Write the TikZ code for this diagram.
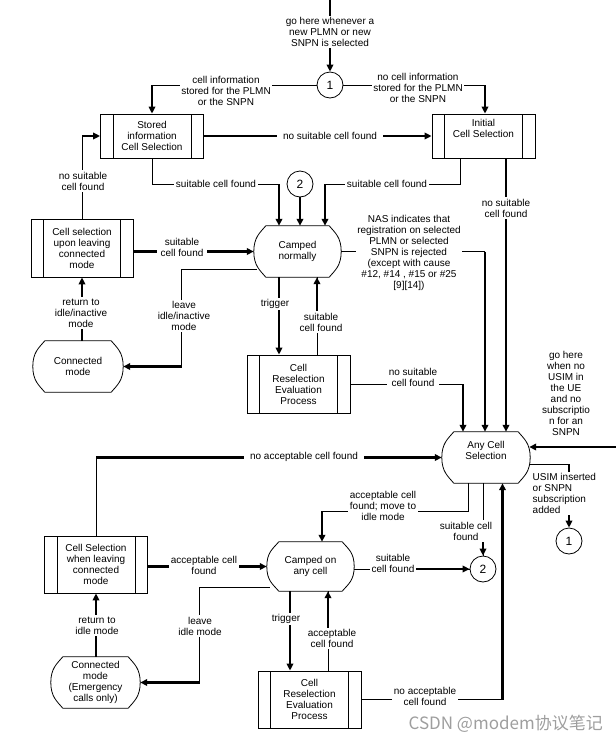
\documentclass[tikz,border=0pt]{standalone}
\usepackage{fontspec}
\setmainfont{Liberation Sans}
\newfontfamily\cjkfont{Noto Sans CJK SC}
\usetikzlibrary{arrows.meta,calc}
\tikzset{
  lbl/.style={font=\fontsize{10}{11}\selectfont, align=center, fill=white, inner sep=1.5pt},
  thn/.style={line width=0.8pt},
  thk/.style={line width=2.2pt},
  arr/.style={-{Triangle[length=7pt,width=6.5pt]}},
  pbox/.style={draw, line width=0.8pt, minimum width=103pt, inner sep=0pt, align=center,
    font=\fontsize{10}{11}\selectfont,
    path picture={\draw[line width=0.8pt]
      ([xshift=12.5pt]path picture bounding box.north west) -- ([xshift=12.5pt]path picture bounding box.south west)
      ([xshift=-12.5pt]path picture bounding box.north east) -- ([xshift=-12.5pt]path picture bounding box.south east);}},
  term/.style={minimum width=87pt, minimum height=51pt, inner sep=0pt, align=center,
    font=\fontsize{10}{11}\selectfont},
  circ/.style={draw, circle, line width=0.8pt, minimum size=26pt, inner sep=0pt,
    font=\fontsize{12}{12}\selectfont, fill=white}
}
\newcommand\drawterm[1]{\draw[line width=0.8pt]
  ([xshift=12pt]#1.north west) -- ([xshift=-12pt]#1.north east)
  .. controls ($([xshift=-12pt]#1.north east)+(6,7)$) and ($(#1.east)+(0,-14)$) .. (#1.east)
  .. controls ($(#1.east)+(0,14)$) and ($([xshift=-12pt]#1.south east)+(6,-7)$) .. ([xshift=-12pt]#1.south east)
  -- ([xshift=12pt]#1.south west)
  .. controls ($([xshift=12pt]#1.south west)+(-6,-7)$) and ($(#1.west)+(0,14)$) .. (#1.west)
  .. controls ($(#1.west)+(0,-14)$) and ($([xshift=12pt]#1.north west)+(-6,7)$) .. cycle;}
\begin{document}
\begin{tikzpicture}[x=1pt,y=-1pt]
\useasboundingbox (0,0) rectangle (616,745);

% ---------- nodes ----------
\node[circ] (c1a) at (330,85) {1};
\node[pbox, minimum height=44pt] (stored) at (152,136) {Stored\\information\\Cell Selection};
\node[pbox, minimum height=44pt] (initial) at (483.5,136) {Initial\\Cell Selection\\[0pt]\strut};
\node[circ] (c2a) at (300,184) {2};
\node[pbox, minimum width=102pt, minimum height=58pt] (cellsel) at (82,248) {Cell selection\\upon leaving\\connected\\mode};
\node[term] (camped) at (297.5,251.5) {Camped\\normally};
\drawterm{camped}
\node[term, minimum width=90pt] (connected) at (78,366.5) {Connected\\mode};
\drawterm{connected}
\node[pbox, minimum height=58pt] (resel1) at (298.5,384) {Cell\\Reselection\\Evaluation\\Process};
\node[term, minimum width=88pt] (anycell) at (486,457.5) {Any Cell\\Selection\\[0pt]\strut};
\drawterm{anycell}
\node[circ] (c1b) at (569,541) {1};
\node[circ] (c2b) at (483,569) {2};
\node[pbox, minimum height=57pt] (cellsel2) at (96,564.5) {Cell Selection\\when leaving\\connected\\mode};
\node[term, minimum height=49pt] (campany) at (310.5,566.5) {Camped on\\any cell};
\drawterm{campany}
\node[term, minimum width=89pt] (connected2) at (95.5,682.5) {Connected\\mode\\(Emergency\\calls only)};
\drawterm{connected2}
\node[pbox, minimum height=57pt] (resel2) at (309.5,699.5) {Cell\\Reselection\\Evaluation\\Process};

% ---------- connectors ----------
\coordinate (top) at (330,0);
\draw[thk,arr] (top) -- (c1a.north);

\coordinate (k2) at (stored.north |- c1a.west);
\draw[thn] (c1a.west) -- (k2);
\draw[line width=1.6pt,arr] (k2) -- (stored.north);

\coordinate (k3b) at ($(initial.north)+(1.5,0)$);
\coordinate (k3) at (k3b |- c1a.east);
\draw[thn] (c1a.east) -- (k3);
\draw[thk,arr] (k3) -- (k3b);

\draw[thk,arr] (stored.east) -- (initial.west);

\coordinate (k5) at (cellsel.north |- stored.west);
\draw[thn] (cellsel.north) -- (k5);
\draw[thk,arr] (k5) -- (stored.west);

\coordinate (k6b) at ($(camped.north)+(-18.5,0)$);
\coordinate (k6) at (k6b |- c2a);
\draw[thn] (stored.south) |- (k6);
\draw[thk,arr] (k6) -- (k6b);

\draw[thk,arr] (c2a.south) -- (c2a.south |- camped.north);

\coordinate (k8b) at ($(camped.north)+(27.5,0)$);
\coordinate (k8) at (k8b |- c2a);
\coordinate (k8a) at ($(initial.south)+(-23.5,0)$);
\draw[thn] (k8a) |- (k8);
\draw[thk,arr] (k8) -- (k8b);

\coordinate (k9a) at ($(initial.south)+(22.5,0)$);
\coordinate (k9b) at ($(anycell.north)+(20,0)$);
\draw[thk,arr] (k9a) -- (k9b);

\draw[thk,arr] (cellsel.east |- camped.west) -- (camped.west);

\draw[thk,arr] (cellsel.south |- connected.north) -- (cellsel.south);

\coordinate (k12a) at ($(camped.west)+(3,17.5)$);
\coordinate (k12b) at ($(k12a)+(-75,0)$);
\coordinate (k12c) at (k12b |- connected.east);
\draw[thn] (k12a) -- (k12b) -- (k12c);
\draw[thk,arr] (k12c) -- (connected.east);

\draw[thk,arr] ($(camped.south)+(-18.5,0)$) -- ($(resel1.north)+(-19.5,0)$);

\draw[thn] ($(resel1.north)+(18.5,0)$) -- ($(camped.south)+(19.5,0)$);
\draw[thk,arr] ($(camped.south)+(19.5,40)$) -- ($(camped.south)+(19.5,0)$);

\coordinate (k15b) at ($(anycell.north)+(-1,0)$);
\coordinate (k15) at (k15b |- camped.east);
\draw[thn] (camped.east) -- (k15);
\draw[line width=1.6pt,arr] (k15) -- (k15b);

\coordinate (k16b) at ($(anycell.north)+(-23,0)$);
\coordinate (k16) at (k16b |- resel1.east);
\draw[thn] (resel1.east) -- (k16);
\draw[thk,arr] (k16) -- (k16b);

\coordinate (rin) at (616,447);
\draw[thk,arr] (rin) -- ($(rin -| anycell.east)+(-1,0)$);

\coordinate (k18a) at ($(anycell.east)+(0,6.5)$);
\coordinate (k18) at (k18a -| c1b.north);
\draw[thn] (k18a) -- (k18);
\draw[thk,arr] (k18) -- (c1b.north);

\coordinate (k19a) at ($(anycell.south)+(-18,0)$);
\coordinate (k19b) at ($(campany.north)+(11.5,0)$);
\coordinate (k19y) at (0,511);
\coordinate (k19c) at (k19b |- k19y);
\draw[thn] (k19a) |- (k19c);
\draw[thk,arr] (k19c) -- (k19b);

\draw[thn] ($(anycell.south)+(-3,0)$) -- (c2b.north);
\draw[thk,arr] ($(c2b.north)+(0,-14)$) -- (c2b.north);

\coordinate (k21) at (cellsel2.north |- anycell.west);
\draw[thn] (cellsel2.north) -- (k21);
\draw[thk,arr] (k21) -- (anycell.west);

\draw[thk,arr] (cellsel2.east |- campany.west) -- (campany.west);

\draw[thn] (campany.east |- c2b.west) -- (c2b.west);
\draw[thk,arr] ($(c2b.west)+(-55,0)$) -- (c2b.west);

\draw[thk,arr] (cellsel2.south |- connected2.north) -- (cellsel2.south);

\coordinate (k25a) at ($(campany.west)+(3,20.5)$);
\coordinate (k25b) at ($(k25a)+(-70,0)$);
\coordinate (k25c) at (k25b |- connected2.east);
\draw[thn] (k25a) -- (k25b) -- (k25c);
\draw[thk,arr] (k25c) -- (connected2.east);

\draw[thk,arr] ($(campany.south)+(-20.5,0)$) -- ($(resel2.north)+(-19.5,0)$);

\draw[thn] ($(resel2.north)+(18.5,0)$) -- ($(campany.south)+(17.5,0)$);
\draw[thk,arr] ($(campany.south)+(17.5,40)$) -- ($(campany.south)+(17.5,0)$);

\coordinate (k28b) at ($(anycell.south)+(16.5,0)$);
\coordinate (k28) at (k28b |- resel2.east);
\draw[thn] (resel2.east) -- (k28);
\draw[thk,arr] (k28) -- (k28b);

% ---------- labels ----------
\node[lbl] (l1) at (330,32) {go here whenever a\\new PLMN or new\\SNPN is selected};
\node[lbl] (l2) at (226,91) {cell information\\stored for the PLMN\\or the SNPN};
\node[lbl] (l3) at (418,88) {no cell information\\stored for the PLMN\\or the SNPN};
\node[lbl, inner xsep=6pt] (l4) at (330,136) {no suitable cell found};
\node[lbl] (l5) at (83,181) {no suitable\\cell found};
\node[lbl] (l6) at (216,184) {suitable cell found};
\node[lbl] (l8) at (387,184) {suitable cell found};
\node[lbl] (l9) at (506,208) {no suitable\\cell found};
\node[lbl, inner xsep=4pt] (l10) at (182,247) {suitable\\cell found};
\node[lbl] (l11) at (81,313) {return to\\idle/inactive\\mode};
\node[lbl] (l12) at (184,316) {leave\\idle/inactive\\mode};
\node[lbl] (l13) at (275,304) {trigger};
\node[lbl] (l14) at (321,322) {suitable\\cell found};
\node[lbl] (l15) at (409,252.5) {NAS indicates that\\registration on selected\\PLMN or selected\\SNPN is rejected\\(except with cause\\\#12, \#14 , \#15  or \#25\\{[9][14])}};
\node[lbl] (l16) at (413,377) {no suitable\\cell found};
\node[lbl] (l17) at (566,393.5) {go here\\when no\\USIM in\\the UE\\and no\\subscriptio\\n for an\\SNPN};
\node[lbl, align=left, anchor=west] (l18) at (531,493.5) {USIM inserted\\or SNPN\\subscription\\added};
\node[lbl] (l19) at (383,506) {acceptable cell\\found; move to\\idle mode};
\node[lbl] (l20) at (466,531) {suitable cell\\found};
\node[lbl, inner xsep=6pt] (l21) at (304,457) {no acceptable cell found};
\node[lbl] (l22) at (204,565) {acceptable cell\\found};
\node[lbl] (l23) at (393,563.5) {suitable\\cell found};
\node[lbl] (l24) at (97,625.5) {return to\\idle mode};
\node[lbl] (l25) at (200,626) {leave\\idle mode};
\node[lbl] (l26) at (286,619) {trigger};
\node[lbl] (l27) at (332,638.5) {acceptable\\cell found};
\node[lbl] (l28) at (425,696.5) {no acceptable\\cell found};

\node[text=black!38, font=\cjkfont\fontsize{17}{17}\selectfont, anchor=east, inner sep=0pt] (wm) at (603,724) {CSDN @modem协议笔记};
\end{tikzpicture}
\end{document}
